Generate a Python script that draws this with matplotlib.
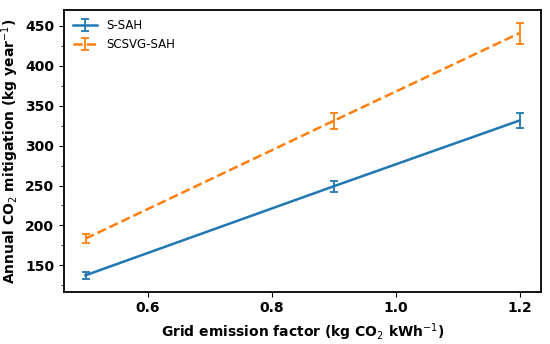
import matplotlib
matplotlib.use("Agg")
import matplotlib.pyplot as plt
from matplotlib.ticker import AutoMinorLocator

grid_factor = [0.5, 0.9, 1.2]
s_sah = [137.5, 249, 331.5]
s_sah_err = [4.5, 7, 9.5]
scsvg_sah = [183.5, 331, 441]
scsvg_sah_err = [5.5, 10, 13]

fig = plt.figure(figsize=(5.5, 3.44), dpi=100)
ax = fig.add_axes([0.116, 0.152, 0.868, 0.819])

ax.errorbar(grid_factor, s_sah, yerr=s_sah_err, color='#1f77b4', lw=1.8,
            capsize=3, elinewidth=1.3, capthick=1.3, label='S-SAH')
ax.errorbar(grid_factor, scsvg_sah, yerr=scsvg_sah_err, color='#ff7f0e', lw=1.8,
            ls='--', capsize=3, elinewidth=1.3, capthick=1.3, label='SCSVG-SAH')

ax.set_xticks([0.6, 0.8, 1.0, 1.2])
ax.set_yticks([150, 200, 250, 300, 350, 400, 450])
ax.yaxis.set_minor_locator(AutoMinorLocator(2))
ax.tick_params(labelsize=10)
for lab in ax.get_xticklabels() + ax.get_yticklabels():
    lab.set_fontweight('bold')
for s in ax.spines.values():
    s.set_linewidth(1.3)

ax.set_xlabel(r'Grid emission factor (kg CO$_2$ kWh$^{-1}$)', fontsize=10, fontweight='bold')
ax.set_ylabel(r'Annual CO$_2$ mitigation (kg year$^{-1}$)', fontsize=10, fontweight='bold', labelpad=3)
ax.legend(loc='upper left', frameon=False, fontsize=8.5, borderaxespad=0.4)

fig.savefig('out.png', dpi=100)
